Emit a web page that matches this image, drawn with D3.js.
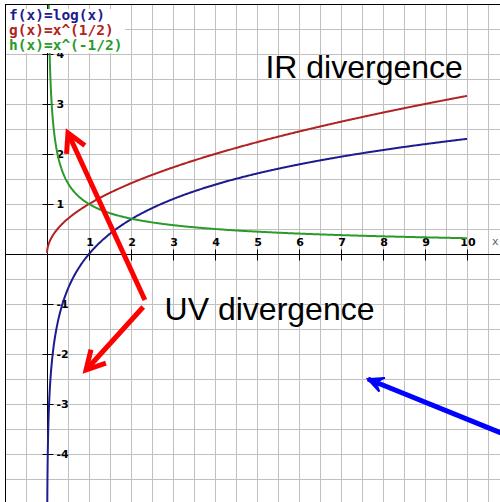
<!DOCTYPE html>
<html>
<head>
<meta charset="utf-8">
<script src="https://cdn.jsdelivr.net/npm/d3@7"></script>
<style>
  body { margin: 0; background: #fff; }
  svg { display: block; }
</style>
</head>
<body>
<script>
var width = 500, height = 502;

// tick labels and grid
var xTicks = [1, 2, 3, 4, 5, 6, 7, 8, 9, 10];
var yTicks = [-4, -3, -2, -1, 1, 2, 3, 4];
var gridStep = 0.5;

// legend entries
var legendLabels = ["f(x)=log(x)", "g(x)=x^(1/2)", "h(x)=x^(-1/2)"];
var legendColors = ["#1c1c8f", "#b22222", "#2a9a2a"];

// the plotted functions
var funcs = [
	function(x) { return Math.log(x); },
	function(x) { return Math.sqrt(x); },
	function(x) { return 1 / Math.sqrt(x); }
];
var sampleX = d3.range(0.0005, 0.1, 0.0005).concat(d3.range(0.1, 10.0001, 0.02));

// annotations: [label, x, y] in data units
var notes = [["IR divergence", 5.2, 3.52], ["UV divergence", 2.8, -1.32]];
// arrows: [x1, y1, x2 (tip), y2 (tip), colour]
var arrows = [
	[2.33, -0.92, 0.5, 2.42, "#ff0000"],
	[2.29, -1.06, 0.93, -2.32, "#ff0000"],
	[11.05, -3.66, 7.64, -2.5, "#0000ff"]
];

var x = d3.scaleLinear().domain([0, 10]).range([47, 467]);
var y = d3.scaleLinear().domain([-5, 5]).range([504, 4]);

var svg = d3.select("body").append("svg")
	.attr("width", width)
	.attr("height", height);

svg.append("clipPath").attr("id", "plot")
	.append("rect")
	.attr("x", x(-1)).attr("y", y(5))
	.attr("width", width - x(-1)).attr("height", height - y(5));

var main = svg.append("g").attr("clip-path", "url(#plot)");

// grid
var gx = d3.range(-1, 11, gridStep);
var gy = d3.range(-5, 5.01, gridStep);
main.selectAll(".gx").data(gx).enter().append("line")
	.attr("x1", function(d) { return Math.round(x(d)) + 0.5; })
	.attr("x2", function(d) { return Math.round(x(d)) + 0.5; })
	.attr("y1", 0).attr("y2", height)
	.attr("stroke", "#c0c0c0");
main.selectAll(".gy").data(gy).enter().append("line")
	.attr("y1", function(d) { return Math.round(y(d)) + 0.5; })
	.attr("y2", function(d) { return Math.round(y(d)) + 0.5; })
	.attr("x1", 0).attr("x2", width)
	.attr("stroke", "#c0c0c0");

// axes
var x0 = Math.round(x(0)) + 0.5, y0 = Math.round(y(0)) + 0.5;
main.append("line").attr("x1", x0).attr("x2", x0).attr("y1", 0).attr("y2", height).attr("stroke", "#000");
main.append("line").attr("x1", 0).attr("x2", width).attr("y1", y0).attr("y2", y0).attr("stroke", "#000");

main.selectAll(".xt").data(xTicks).enter().append("line")
	.attr("x1", function(d) { return Math.round(x(d)) + 0.5; })
	.attr("x2", function(d) { return Math.round(x(d)) + 0.5; })
	.attr("y1", y0 - 5).attr("y2", y0 + 6)
	.attr("stroke", "#000");
main.selectAll(".yt").data(yTicks).enter().append("line")
	.attr("y1", function(d) { return Math.round(y(d)) + 0.5; })
	.attr("y2", function(d) { return Math.round(y(d)) + 0.5; })
	.attr("x1", x0 - 5).attr("x2", x0 + 6)
	.attr("stroke", "#000");

main.selectAll(".xl").data(xTicks).enter().append("text")
	.attr("x", function(d) { return x(d) + 1; })
	.attr("y", y0 - 9)
	.attr("text-anchor", "middle")
	.attr("font-family", "DejaVu Sans")
	.attr("font-weight", "bold")
	.attr("font-size", "11px")
	.text(function(d) { return d; });
main.selectAll(".yl").data(yTicks).enter().append("text")
	.attr("x", x0 + 9)
	.attr("y", function(d) { return y(d) + 4; })
	.attr("font-family", "DejaVu Sans")
	.attr("font-weight", "bold")
	.attr("font-size", "11px")
	.text(function(d) { return d; });
main.append("text")
	.attr("x", 492).attr("y", y0 - 10)
	.attr("font-family", "DejaVu Sans")
	.attr("font-size", "11px")
	.attr("fill", "#666")
	.text("x");

// curves
var line = d3.line()
	.x(function(d) { return x(d[0]); })
	.y(function(d) { return y(Math.max(-6, Math.min(6, d[1]))); });
funcs.forEach(function(f, i) {
	main.append("path")
		.datum(sampleX.map(function(v) { return [v, f(v)]; }))
		.attr("d", line)
		.attr("fill", "none")
		.attr("stroke", legendColors[i])
		.attr("stroke-width", 2);
});

// legend box
svg.append("rect")
	.attr("x", 6).attr("y", 9).attr("width", 119).attr("height", 44)
	.attr("fill", "#fff");
svg.selectAll(".lg").data(legendLabels).enter().append("text")
	.attr("x", 9)
	.attr("y", function(d, i) { return 20 + i * 15; })
	.attr("font-family", "DejaVu Sans Mono")
	.attr("font-weight", "bold")
	.attr("font-size", "14.5px")
	.attr("fill", function(d, i) { return legendColors[i]; })
	.text(function(d) { return d; });

// frame (top and left)
svg.append("line").attr("x1", 5).attr("x2", width).attr("y1", 4.5).attr("y2", 4.5).attr("stroke", "#000");
svg.append("line").attr("x1", 5.5).attr("x2", 5.5).attr("y1", 4).attr("y2", height).attr("stroke", "#000");

// annotations
svg.selectAll(".note").data(notes).enter().append("text")
	.attr("x", function(d) { return x(d[1]); })
	.attr("y", function(d) { return y(d[2]); })
	.attr("font-family", "Liberation Sans, Arial, sans-serif")
	.attr("font-size", "32px")
	.attr("fill", "#000")
	.text(function(d) { return d[0]; });

arrows.forEach(function(a) {
	var x1 = x(a[0]), y1 = y(a[1]), x2 = x(a[2]), y2 = y(a[3]);
	var ang = Math.atan2(y1 - y2, x1 - x2);
	var isRed = a[4] === "#ff0000";
	var len = isRed ? 21 : 17, spread = isRed ? 0.5 : 0.45;
	var p1 = [x2 + len * Math.cos(ang + spread), y2 + len * Math.sin(ang + spread)];
	var p2 = [x2 + len * Math.cos(ang - spread), y2 + len * Math.sin(ang - spread)];
	svg.append("line")
		.attr("x1", x1).attr("y1", y1).attr("x2", x2).attr("y2", y2)
		.attr("stroke", a[4]).attr("stroke-width", 5);
	if (isRed) {
		svg.append("path")
			.attr("d", "M" + p1 + "L" + x2 + "," + y2 + "L" + p2)
			.attr("fill", "none")
			.attr("stroke", a[4]).attr("stroke-width", 5)
			.attr("stroke-linejoin", "miter");
	} else {
		svg.append("path")
			.attr("d", "M" + p1 + "L" + x2 + "," + y2 + "L" + p2 + "L" + (x2 + 0.5 * len * Math.cos(ang)) + "," + (y2 + 0.5 * len * Math.sin(ang)) + "Z")
			.attr("fill", a[4])
			.attr("stroke", a[4]).attr("stroke-width", 2);
	}
});
</script>
</body>
</html>
